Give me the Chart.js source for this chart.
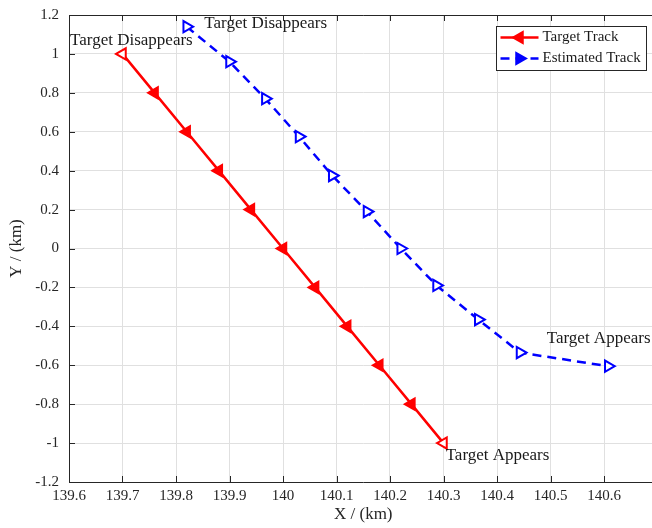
<!DOCTYPE html>
<html>
<head>
<meta charset="utf-8">
<script src="https://cdn.jsdelivr.net/npm/chart.js@4.4.1/dist/chart.umd.min.js"></script>
<style>
  html, body { margin: 0; padding: 0; background: #fff; overflow: hidden; }
  #wrap { width: 666px; height: 528px; }
</style>
</head>
<body>
<div id="wrap"><canvas id="trackChart" width="666" height="528"></canvas></div>
<script>
// true track (km)
var targetX = [139.7, 139.76, 139.82, 139.88, 139.94, 140.0, 140.06, 140.12, 140.18, 140.24, 140.3];
var targetY = [1.0, 0.8, 0.6, 0.4, 0.2, 0.0, -0.2, -0.4, -0.6, -0.8, -1.0];
// estimated track (km)
var estX = [139.82, 139.9, 139.967, 140.03, 140.092, 140.157, 140.22, 140.287, 140.365, 140.443, 140.608];
var estY = [1.14, 0.96, 0.77, 0.575, 0.375, 0.19, 0.0, -0.19, -0.365, -0.535, -0.605];

var xTicks = [139.6, 139.7, 139.8, 139.9, 140, 140.1, 140.2, 140.3, 140.4, 140.5, 140.6, 140.7];
var yTicks = [-1.2, -1, -0.8, -0.6, -0.4, -0.2, 0, 0.2, 0.4, 0.6, 0.8, 1, 1.2];

var notes = [
    { text: 'Target Disappears', x: 139.602, y: 1.07 },
    { text: 'Target Disappears', x: 139.853, y: 1.155 },
    { text: 'Target Appears', x: 140.493, y: -0.465 },
    { text: 'Target Appears', x: 140.304, y: -1.066 }
];

var seriesNames = ['Target Track', 'Estimated Track'];

var SERIF = '"Liberation Serif", "DejaVu Serif", serif';

function toPoints(xs, ys) {
    return xs.map(function (x, i) { return { x: x, y: ys[i] }; });
}

var redFill = targetX.map(function (x, i) {
    return (i === 0 || i === targetX.length - 1) ? '#ffffff' : '#ff0000';
});

var extras = {
    id: 'extras',
    afterDraw: function (chart) {
        var ctx = chart.ctx;
        var a = chart.chartArea;
        var xs = chart.scales.x, ys = chart.scales.y;
        ctx.save();
        // box + inward ticks
        ctx.strokeStyle = '#262626';
        ctx.lineWidth = 1;
        ctx.beginPath();
        ctx.moveTo(a.left, a.top + 0.5);
        ctx.lineTo(a.right, a.top + 0.5);
        ctx.moveTo(a.right - 0.5, a.top);
        ctx.lineTo(a.right - 0.5, a.bottom);
        xTicks.forEach(function (v) {
            var px = Math.round(xs.getPixelForValue(v)) + 0.5;
            ctx.moveTo(px, a.bottom);
            ctx.lineTo(px, a.bottom - 6);
            ctx.moveTo(px, a.top);
            ctx.lineTo(px, a.top + 6);
        });
        yTicks.forEach(function (v) {
            var py = Math.round(ys.getPixelForValue(v)) + 0.5;
            ctx.moveTo(a.left, py);
            ctx.lineTo(a.left + 6, py);
        });
        ctx.stroke();

        // annotations
        ctx.fillStyle = '#1a1a1a';
        ctx.font = '17px ' + SERIF;
        ctx.textBaseline = 'middle';
        ctx.textAlign = 'left';
        notes.forEach(function (n) {
            ctx.fillText(n.text, xs.getPixelForValue(n.x), ys.getPixelForValue(n.y));
        });

        // legend
        var lx = 496.5, ly = 26.5, lw = 150, lh = 44;
        ctx.fillStyle = '#ffffff';
        ctx.fillRect(lx, ly, lw, lh);
        ctx.strokeStyle = '#262626';
        ctx.lineWidth = 1;
        ctx.strokeRect(lx, ly, lw, lh);
        chart.data.datasets.forEach(function (ds, i) {
            var cy = ly + 11 + i * 21;
            ctx.strokeStyle = ds.borderColor;
            ctx.lineWidth = ds.borderWidth;
            ctx.setLineDash(ds.borderDash || []);
            ctx.beginPath();
            ctx.moveTo(lx + 4, cy);
            ctx.lineTo(lx + 42, cy);
            ctx.stroke();
            ctx.setLineDash([]);
            Chart.helpers.drawPoint(ctx, {
                pointStyle: 'triangle',
                rotation: ds.pointRotation,
                radius: 6,
                borderWidth: 2
            }, lx + 23, cy);
            ctx.fillStyle = ds.borderColor;
            ctx.fill();
            ctx.fillStyle = '#1a1a1a';
            ctx.font = '15px ' + SERIF;
            ctx.fillText(seriesNames[i], lx + 46, cy);
        });
        ctx.restore();
    }
};

new Chart(document.getElementById('trackChart').getContext('2d'), {
    type: 'scatter',
    data: {
        datasets: [{
            label: seriesNames[0],
            data: toPoints(targetX, targetY),
            showLine: true,
            borderColor: '#ff0000',
            backgroundColor: redFill,
            borderWidth: 2.5,
            pointStyle: 'triangle',
            pointRotation: -90,
            pointRadius: 6.5,
            pointBorderWidth: 2
        }, {
            label: seriesNames[1],
            data: toPoints(estX, estY),
            showLine: true,
            borderColor: '#0000ff',
            backgroundColor: '#ffffff',
            borderWidth: 2.5,
            borderDash: [9, 6],
            pointStyle: 'triangle',
            pointRotation: 90,
            pointRadius: 6.5,
            pointBorderWidth: 2
        }]
    },
    options: {
        responsive: false,
        animation: false,
        layout: { padding: { top: 15, right: 3, left: 0, bottom: 0 } },
        plugins: { legend: { display: false }, tooltip: { enabled: false } },
        scales: {
            x: {
                type: 'linear',
                min: 139.6, max: 140.7,
                afterBuildTicks: function (s) { s.ticks = xTicks.map(function (v) { return { value: v }; }); },
                afterFit: function (s) { s.height = 46; },
                grid: { color: '#e0e0e0', drawTicks: false },
                border: { color: '#262626', width: 1 },
                ticks: {
                    padding: 5, color: '#262626', maxRotation: 0,
                    font: { family: SERIF, size: 15 },
                    callback: function (v) { return v === 140.7 ? '' : String(Math.round(v * 10) / 10); }
                },
                title: {
                    display: true, text: 'X / (km)', color: '#262626',
                    font: { family: SERIF, size: 17 }, padding: { top: 0, bottom: 3 }
                }
            },
            y: {
                type: 'linear',
                min: -1.2, max: 1.2,
                afterBuildTicks: function (s) { s.ticks = yTicks.map(function (v) { return { value: v }; }); },
                afterFit: function (s) { s.width = 69; s.paddingTop = 0; s.paddingBottom = 0; },
                grid: { color: '#e0e0e0', drawTicks: false },
                border: { color: '#262626', width: 1 },
                ticks: {
                    padding: 10, color: '#262626',
                    font: { family: SERIF, size: 15 },
                    callback: function (v) { return String(Math.round(v * 10) / 10); }
                },
                title: {
                    display: true, text: 'Y / (km)', color: '#262626',
                    font: { family: SERIF, size: 17 }, padding: { top: 6, bottom: 0 }
                }
            }
        }
    },
    plugins: [extras]
});
</script>
</body>
</html>
